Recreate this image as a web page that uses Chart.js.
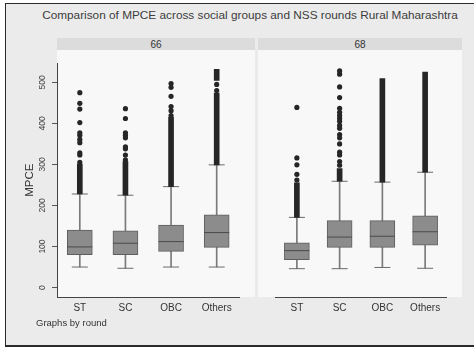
<!DOCTYPE html>
<html>
<head>
<meta charset="utf-8">
<script src="https://cdn.jsdelivr.net/npm/chart.js@4.4.1/dist/chart.umd.min.js"></script>
<style>
  body { margin: 0; background: #fff; font-family: "Liberation Sans", Arial, sans-serif; }
  .abs { position: absolute; }
  #frame { left: 5px; top: 3px; width: 480px; height: 341px; background: #ebebeb;
           border-left: 1px solid #2a2a2a; border-top: 1px solid #2a2a2a; border-bottom: 2px solid #2a2a2a; }
  #title { left: 40px; top: 8px; width: 420px; text-align: center; font-size: 11.8px; color: #3c3c3c; }
  .strip { top: 38px; height: 12px; background: #dcdcdc; text-align: center; font-size: 10px; line-height: 13px; color: #333; }
  .plotbg { top: 50px; height: 247px; background: #f8f8f8; }
  #note { left: 36px; top: 317px; font-size: 9.5px; color: #333; }
</style>
</head>
<body>
<div id="frame" class="abs"></div>
<div id="title" class="abs">Comparison of MPCE across social groups and NSS rounds Rural Maharashtra</div>
<div class="abs strip" style="left:57px;width:198px">66</div>
<div class="abs strip" style="left:258px;width:204px">68</div>
<div class="abs plotbg" style="left:57px;width:198px"></div>
<div class="abs plotbg" style="left:258px;width:204px"></div>
<div class="abs" style="left:5px;top:50px;width:248px;height:268px"><canvas id="c66"></canvas></div>
<div class="abs" style="left:262px;top:50px;width:198px;height:268px"><canvas id="c68"></canvas></div>
<div id="note" class="abs">Graphs by round</div>
<script>
// categories and axis
const groups = ['ST', 'SC', 'OBC', 'Others'];
const yTicks = [0, 100, 200, 300, 400, 500];
const yMin = -23, yMax = 546;

// round 66
const low66 = [50, 47, 50, 50];
const q1_66 = [80, 80, 88, 98];
const med66 = [99, 108, 112, 134];
const q3_66 = [140, 138, 152, 177];
const high66 = [228, 225, 246, 299];
const denseA66 = [[228, 300], [225, 307], [246, 415], [299, 474]];
const denseB66 = [null, null, null, [505, 532]];
const out66 = [
  [305, 323, 328, 353, 361, 371, 377, 402, 435, 449, 475],
  [311, 323, 338, 343, 365, 371, 377, 412, 436],
  [419, 431, 441, 466, 488, 497],
  [480, 495]
];

// round 68
const low68 = [46, 46, 49, 47];
const q1_68 = [68, 98, 98, 103];
const med68 = [90, 123, 125, 136];
const q3_68 = [109, 163, 163, 175];
const high68 = [171, 259, 257, 281];
const denseA68 = [[171, 255], [259, 290], [257, 509], [281, 525]];
const denseB68 = [null, null, null, null];
const out68 = [
  [262, 276, 299, 316, 439],
  [298, 307, 323, 330, 350, 365, 373, 388, 395, 405, 412, 419, 427, 437, 463, 489, 520, 528],
  [],
  []
];

function points(vals) {
  return vals.map((v, i) => ({ x: groups[i], y: v }));
}

function makeChart(id, low, q1, med, q3, high, denseA, denseB, outs, showY) {
  const outPts = [];
  outs.forEach((list, i) => list.forEach(v => outPts.push({ x: groups[i], y: v })));
  const ctx = document.getElementById(id).getContext('2d');
  return new Chart(ctx, {
    type: 'bar',
    data: {
      labels: groups,
      datasets: [
        { // whiskers
          data: low.map((v, i) => [v, high[i]]),
          backgroundColor: '#7a7a7a', barThickness: 1, grouped: false, order: 6
        },
        { // boxes
          data: q1.map((v, i) => [v, q3[i]]),
          backgroundColor: '#8c8c8c', borderColor: '#5e5e5e', borderWidth: 1,
          borderSkipped: false, barThickness: 25, grouped: false, order: 5
        },
        { // dense outliers
          data: denseA, backgroundColor: '#262626', barThickness: 5, grouped: false, order: 3
        },
        {
          data: denseB, backgroundColor: '#262626', barThickness: 5, grouped: false, order: 3
        },
        { // medians
          type: 'line', data: points(med), showLine: false, pointStyle: 'line',
          pointRadius: 12.5, pointBorderColor: '#4a4a4a', pointBorderWidth: 1, order: 4
        },
        { // caps
          type: 'line', data: points(low).concat(points(high)), showLine: false, pointStyle: 'line',
          pointRadius: 8, pointBorderColor: '#6a6a6a', pointBorderWidth: 1, order: 4
        },
        { // outliers
          type: 'line', data: outPts, showLine: false, pointStyle: 'circle',
          pointRadius: 2.6, pointBackgroundColor: '#262626', pointBorderWidth: 0, order: 1
        }
      ]
    },
    options: {
      responsive: true,
      maintainAspectRatio: false,
      animation: false,
      layout: { padding: 0 },
      plugins: { legend: { display: false }, tooltip: { enabled: false } },
      scales: {
        x: {
          grid: { display: false, drawTicks: false },
          border: { display: true, color: '#444', width: 1 },
          ticks: { padding: 5, color: '#333', minRotation: 0, maxRotation: 0, autoSkip: false,
                   font: { family: 'Liberation Sans', size: 10 } },
          afterFit: s => { s.height = 21; }
        },
        y: {
          display: showY,
          min: yMin, max: yMax,
          afterBuildTicks: s => { s.ticks = yTicks.map(v => ({ value: v })); },
          grid: { drawOnChartArea: false, drawTicks: true, tickLength: 5, color: '#555' },
          border: { display: true, color: '#444', width: 1 },
          ticks: { minRotation: 90, maxRotation: 90, crossAlign: 'center', padding: 2,
                   color: '#444', font: { family: 'Liberation Sans', size: 8.5 } },
          title: { display: true, text: 'MPCE', color: '#333', padding: { top: 18, bottom: 0 },
                   font: { family: 'Liberation Sans', size: 11.5 } },
          afterFit: s => { s.width = showY ? 52 : 0; }
        }
      }
    }
  });
}

makeChart('c66', low66, q1_66, med66, q3_66, high66, denseA66, denseB66, out66, true);
makeChart('c68', low68, q1_68, med68, q3_68, high68, denseA68, denseB68, out68, false);
</script>
</body>
</html>
